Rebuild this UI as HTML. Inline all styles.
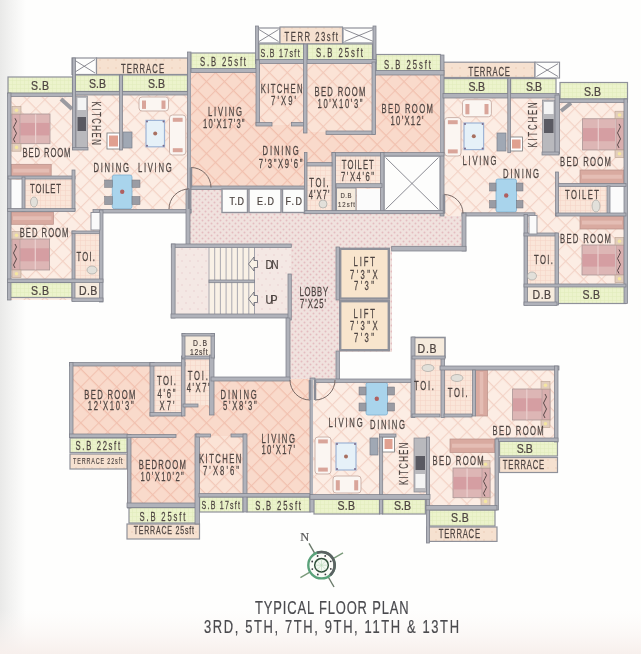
<!DOCTYPE html>
<html><head><meta charset="utf-8"><style>
html,body{margin:0;padding:0;background:#fefefd;}
svg{display:block;font-family:"Liberation Sans",sans-serif;filter:blur(0.35px);}
</style></head><body>
<svg width="641" height="654" viewBox="0 0 641 654">
<defs>
<linearGradient id="bgl" x1="0" x2="1" y1="0" y2="0">
<stop offset="0" stop-color="#e9e9e8"/><stop offset="0.35" stop-color="#f1f1f0"/><stop offset="1" stop-color="#fefefd"/>
</linearGradient>
<linearGradient id="bgb" x1="0" x2="0" y1="0" y2="1">
<stop offset="0" stop-color="#fbf7f5" stop-opacity="0"/><stop offset="1" stop-color="#f7efec" stop-opacity="1"/>
</linearGradient>
<pattern id="peach" width="12.7" height="12.7" patternUnits="userSpaceOnUse" patternTransform="rotate(45)">
<rect width="12.7" height="12.7" fill="#fcede4"/><path d="M0 0.6H12.7M0.6 0V12.7" stroke="#f3d2c5" stroke-width="1"/>
</pattern>
<pattern id="salmon" width="12.7" height="12.7" patternUnits="userSpaceOnUse" patternTransform="rotate(45)">
<rect width="12.7" height="12.7" fill="#f9dacb"/><path d="M0 0.6H12.7M0.6 0V12.7" stroke="#f1c0ae" stroke-width="1"/>
</pattern>
<pattern id="lsal" width="12.7" height="12.7" patternUnits="userSpaceOnUse" patternTransform="rotate(45)">
<rect width="12.7" height="12.7" fill="#fbe3d6"/><path d="M0 0.6H12.7M0.6 0V12.7" stroke="#f2c8b8" stroke-width="1"/>
</pattern>
<pattern id="green" width="4" height="4" patternUnits="userSpaceOnUse">
<rect width="4" height="4" fill="#ecf3cc"/><path d="M0 0.5H4M0.5 0V4" stroke="#e0eabb" stroke-width="0.5"/>
</pattern>
<pattern id="tan" width="8" height="8" patternUnits="userSpaceOnUse">
<rect width="8" height="8" fill="#f6e1d0"/><circle cx="4" cy="4" r="0.8" fill="#eccab6"/>
</pattern>
<pattern id="tile" width="5" height="5" patternUnits="userSpaceOnUse">
<rect width="5" height="5" fill="#fae6d9"/><path d="M0 0.5H5M0.5 0V5" stroke="#f4d3c4" stroke-width="0.5"/>
</pattern>
<pattern id="lobby" width="6" height="6" patternUnits="userSpaceOnUse">
<rect width="6" height="6" fill="#f0e2de"/><circle cx="1.5" cy="1.5" r="0.95" fill="#e4bcc0"/><circle cx="4.5" cy="4.5" r="0.95" fill="#e4bcc0"/>
</pattern>
<pattern id="stairf" width="8" height="12" patternUnits="userSpaceOnUse">
<rect width="8" height="12" fill="#f4e8e4"/><circle cx="2" cy="3" r="0.8" fill="#ead0d0"/><circle cx="6" cy="9" r="0.8" fill="#ead0d0"/>
</pattern>
</defs>
<rect width="641" height="654" fill="#fefefd"/>
<rect width="26" height="654" fill="url(#bgl)"/>
<rect y="610" width="641" height="44" fill="url(#bgb)"/>
<rect x="190" y="189" width="115" height="58" fill="url(#lobby)"/><rect x="304" y="211" width="158" height="36" fill="url(#lobby)"/><rect x="290" y="246" width="48" height="134" fill="url(#lobby)"/><rect x="338" y="246" width="54" height="106" fill="url(#lobby)"/>
<rect x="8" y="93" width="183" height="120" fill="url(#peach)" />
<rect x="8" y="211" width="95" height="89" fill="url(#peach)" />
<rect x="24" y="178" width="50" height="32" fill="url(#tile)" />
<rect x="74" y="232" width="27" height="50" fill="url(#tile)" />
<rect x="72" y="58" width="24.5" height="16.5" fill="#fdfdfc" stroke="#8f919a" stroke-width="1.2"/>
<path d="M73.5 59.5L95.0 73.0M95.0 59.5L73.5 73.0" stroke="#70707a" stroke-width="0.8"/>
<rect x="96.5" y="58" width="91.5" height="16.5" fill="url(#tan)" stroke="#8f919a" stroke-width="1.2"/>
<text x="0" y="0" font-size="12" text-anchor="middle" fill="#4e4542" stroke="#4e4542" stroke-width="0.25" textLength="67.2" lengthAdjust="spacing" transform="translate(142.5,72.5) scale(0.64,1)">TERRACE</text>
<rect x="8" y="77" width="64.5" height="16.5" fill="url(#green)" stroke="#8f919a" stroke-width="1.2"/>
<text x="0" y="0" font-size="12" text-anchor="middle" fill="#4e4542" stroke="#4e4542" stroke-width="0.25" textLength="20.5" lengthAdjust="spacing" transform="translate(40.0,89.8) scale(0.88,1)">S.B</text>
<rect x="75" y="75" width="44.5" height="16.5" fill="url(#green)" stroke="#8f919a" stroke-width="1.2"/>
<text x="0" y="0" font-size="12" text-anchor="middle" fill="#4e4542" stroke="#4e4542" stroke-width="0.25" textLength="19.3" lengthAdjust="spacing" transform="translate(97.5,87.8) scale(0.88,1)">S.B</text>
<rect x="122.5" y="75" width="65.0" height="16.5" fill="url(#green)" stroke="#8f919a" stroke-width="1.2"/>
<text x="0" y="0" font-size="12" text-anchor="middle" fill="#4e4542" stroke="#4e4542" stroke-width="0.25" textLength="19.3" lengthAdjust="spacing" transform="translate(156.5,87.8) scale(0.88,1)">S.B</text>
<rect x="11" y="180" width="12" height="28" fill="#fbfbfb" />
<rect x="8" y="282.5" width="64" height="15.0" fill="url(#green)" stroke="#8f919a" stroke-width="1.2"/>
<text x="0" y="0" font-size="12" text-anchor="middle" fill="#4e4542" stroke="#4e4542" stroke-width="0.25" textLength="20.5" lengthAdjust="spacing" transform="translate(40.0,294.5) scale(0.88,1)">S.B</text>
<rect x="73" y="282" width="28" height="18" fill="#f6ebdd" />
<text x="0" y="0" font-size="12" text-anchor="middle" fill="#4e4542" stroke="#4e4542" stroke-width="0.25" textLength="20.9" lengthAdjust="spacing" transform="translate(88.2,294.5) scale(0.88,1)">D.B</text>
<rect x="12" y="114" width="38.0" height="29.7" fill="#ddb6b5" stroke="#aa9696" stroke-width="0.8"/>
<rect x="12.5" y="122.9" width="37.0" height="12.5" fill="#d59ea2"/>
<line x1="19.6" y1="114.5" x2="19.6" y2="143.2" stroke="#ebd0cf" stroke-width="1.2"/>
<line x1="35.6" y1="114.5" x2="35.6" y2="143.2" stroke="#ebd0cf" stroke-width="1.2"/>
<rect x="12.0" y="114" width="8" height="29.7" fill="#d8aeae" stroke="#aa9696" stroke-width="0.6"/>
<path d="M15.0 117.0 q3 3 0 6 q-3 3 0 6 q3 3 0 6 q-3 3 0 6" fill="none" stroke="#5a4a4a" stroke-width="1" transform="translate(0,1.3)"/>
<rect x="12.0" y="106.5" width="9" height="7.5" fill="#e2cdbd" stroke="#b8a090" stroke-width="0.6"/><circle cx="16.5" cy="110.3" r="1.8" fill="#f4e6a0"/>
<rect x="12.0" y="143.7" width="9" height="7.5" fill="#e2cdbd" stroke="#b8a090" stroke-width="0.6"/><circle cx="16.5" cy="147.4" r="1.8" fill="#f4e6a0"/>
<rect x="11.2" y="164.3" width="40.0" height="12.5" fill="#d9aaa0" stroke="#b89088" stroke-width="0.7"/>
<rect x="13.2" y="168.7" width="36.0" height="3.8" fill="#e4bdb4"/>
<rect x="12" y="239" width="37.6" height="31.0" fill="#ddb6b5" stroke="#aa9696" stroke-width="0.8"/>
<rect x="12.5" y="248.3" width="36.6" height="13.0" fill="#d59ea2"/>
<line x1="19.5" y1="239.5" x2="19.5" y2="269.5" stroke="#ebd0cf" stroke-width="1.2"/>
<line x1="35.3" y1="239.5" x2="35.3" y2="269.5" stroke="#ebd0cf" stroke-width="1.2"/>
<rect x="12.0" y="239" width="8" height="31.0" fill="#d8aeae" stroke="#aa9696" stroke-width="0.6"/>
<path d="M15.0 242.0 q3 3 0 6 q-3 3 0 6 q3 3 0 6 q-3 3 0 6" fill="none" stroke="#5a4a4a" stroke-width="1" transform="translate(0,2.0)"/>
<rect x="12.0" y="231.5" width="9" height="7.5" fill="#e2cdbd" stroke="#b8a090" stroke-width="0.6"/><circle cx="16.5" cy="235.3" r="1.8" fill="#f4e6a0"/>
<rect x="12.0" y="270.0" width="9" height="7.5" fill="#e2cdbd" stroke="#b8a090" stroke-width="0.6"/><circle cx="16.5" cy="273.7" r="1.8" fill="#f4e6a0"/>
<rect x="11" y="212" width="42.4" height="12.3" fill="#d9aaa0" stroke="#b89088" stroke-width="0.7"/>
<rect x="13.0" y="216.3" width="38.4" height="3.7" fill="#e4bdb4"/>
<rect x="76" y="96" width="11.400000000000006" height="52.5" fill="#b9b9bd" stroke="#88888f" stroke-width="0.7"/>
<rect x="77.5" y="98" width="8.5" height="12" fill="#f4f4f4" />
<rect x="77.5" y="117" width="8.5" height="14" fill="#5a5a62" />
<rect x="107" y="133" width="13" height="16" fill="#fff" stroke="#777" stroke-width="0.8"/><rect x="109" y="135.5" width="9" height="11" fill="#e0a090"/>
<rect x="123" y="132" width="9" height="16" fill="#a0a8b4" stroke="#7a7f8a" stroke-width="0.7"/>
<rect x="139" y="97" width="29.5" height="14.0" rx="3" fill="#fbf6f2" stroke="#cdb3aa" stroke-width="1"/>
<rect x="142.0" y="100.5" width="4" height="8.4" fill="#d9a59a"/>
<rect x="161.5" y="100.5" width="4" height="8.4" fill="#d9a59a"/>
<rect x="169.5" y="115" width="16.3" height="40.0" rx="3" fill="#fbf6f2" stroke="#cdb3aa" stroke-width="1"/>
<rect x="172.8" y="117.8" width="9.8" height="4" fill="#d9a59a"/>
<rect x="172.8" y="148.2" width="9.8" height="4" fill="#d9a59a"/>
<rect x="146" y="120.4" width="18.5" height="26.4" fill="#e6f1f8" stroke="#9db4d6" stroke-width="1.2"/>
<circle cx="147.0" cy="121.4" r="1" fill="#7a6a8a"/>
<circle cx="163.5" cy="121.4" r="1" fill="#7a6a8a"/>
<circle cx="147.0" cy="145.8" r="1" fill="#7a6a8a"/>
<circle cx="163.5" cy="145.8" r="1" fill="#7a6a8a"/>
<circle cx="155.2" cy="133.6" r="2" fill="#a87060"/>
<rect x="112.3" y="175" width="19.700000000000003" height="33.69999999999999" rx="2" fill="#a9d4ec" stroke="#7fb0d0" stroke-width="0.8"/>
<circle cx="122.2" cy="191.8" r="2.2" fill="#b06060"/>
<rect x="104.6" y="180" width="7.700000000000003" height="7.400000000000006" fill="#9a9ca4" stroke="#70727a" stroke-width="0.5"/>
<rect x="104.6" y="196.5" width="7.700000000000003" height="8.099999999999994" fill="#9a9ca4" stroke="#70727a" stroke-width="0.5"/>
<rect x="132" y="180" width="8" height="7.400000000000006" fill="#9a9ca4" stroke="#70727a" stroke-width="0.5"/>
<rect x="132" y="196.5" width="8" height="8.099999999999994" fill="#9a9ca4" stroke="#70727a" stroke-width="0.5"/>
<path d="M61 99 L72 109" stroke="#9a9aa0" stroke-width="4"/>
<rect x="8" y="93" width="67" height="3.5" fill="#b0b2ba" stroke="#7e808a" stroke-width="0.75"/>
<rect x="72.5" y="91.5" width="118.5" height="3.5" fill="#b0b2ba" stroke="#7e808a" stroke-width="0.75"/>
<rect x="7.5" y="93" width="3.5" height="207" fill="#b0b2ba" stroke="#7e808a" stroke-width="0.75"/>
<rect x="187.5" y="52" width="3.5" height="161" fill="#b0b2ba" stroke="#7e808a" stroke-width="0.75"/>
<rect x="72.5" y="58" width="3.0" height="91.5" fill="#b0b2ba" stroke="#7e808a" stroke-width="0.75"/>
<rect x="72.5" y="147.5" width="15.5" height="2.5" fill="#b0b2ba" stroke="#7e808a" stroke-width="0.75"/>
<rect x="119.5" y="75" width="3.0" height="75" fill="#b0b2ba" stroke="#7e808a" stroke-width="0.75"/>
<rect x="8" y="176" width="67" height="3" fill="#b0b2ba" stroke="#7e808a" stroke-width="0.75"/>
<rect x="72" y="170" width="3" height="41" fill="#b0b2ba" stroke="#7e808a" stroke-width="0.75"/>
<rect x="22" y="177" width="3" height="34" fill="#b0b2ba" stroke="#7e808a" stroke-width="0.75"/>
<rect x="7.5" y="208.5" width="67.5" height="3.1" fill="#b0b2ba" stroke="#7e808a" stroke-width="0.75"/>
<rect x="93" y="209.5" width="98" height="3.5" fill="#b0b2ba" stroke="#7e808a" stroke-width="0.75"/>
<rect x="72" y="231" width="3" height="70" fill="#b0b2ba" stroke="#7e808a" stroke-width="0.75"/>
<rect x="72" y="231" width="30" height="2.7" fill="#b0b2ba" stroke="#7e808a" stroke-width="0.75"/>
<rect x="99.5" y="210" width="3.5" height="92" fill="#b0b2ba" stroke="#7e808a" stroke-width="0.75"/>
<rect x="7.5" y="279" width="95.5" height="3.5" fill="#b0b2ba" stroke="#7e808a" stroke-width="0.75"/>
<rect x="72" y="298" width="31" height="3.5" fill="#b0b2ba" stroke="#7e808a" stroke-width="0.75"/>
<rect x="91" y="212.5" width="9" height="17.5" fill="#fafafa" stroke="#8a8c96" stroke-width="0.9"/>
<text x="0" y="0" font-size="12" text-anchor="middle" fill="#4e4542" stroke="#4e4542" stroke-width="0.25" textLength="75.0" lengthAdjust="spacing" transform="translate(46.5,156.7) scale(0.64,1)">BED ROOM</text>
<text x="0" y="0" font-size="12" text-anchor="middle" fill="#4e4542" stroke="#4e4542" stroke-width="0.25" textLength="48.4" lengthAdjust="spacing" transform="translate(45.5,192.5) scale(0.64,1)">TOILET</text>
<text x="0" y="0" font-size="12" text-anchor="middle" fill="#4e4542" stroke="#4e4542" stroke-width="0.25" textLength="76.1" lengthAdjust="spacing" transform="translate(44.1,236.5) scale(0.64,1)">BED ROOM</text>
<text x="0" y="0" font-size="12" text-anchor="middle" fill="#4e4542" stroke="#4e4542" stroke-width="0.25" textLength="29.1" lengthAdjust="spacing" transform="translate(85.7,260.5) scale(0.64,1)">TOI.</text>
<text x="0" y="0" font-size="12" text-anchor="middle" fill="#4e4542" stroke="#4e4542" stroke-width="0.25" textLength="55.5" lengthAdjust="spacing" transform="translate(111.2,172) scale(0.64,1)">DINING</text>
<text x="0" y="0" font-size="12" text-anchor="middle" fill="#4e4542" stroke="#4e4542" stroke-width="0.25" textLength="52.5" lengthAdjust="spacing" transform="translate(154.8,172) scale(0.64,1)">LIVING</text>
<text x="0" y="0" font-size="12" text-anchor="middle" fill="#4e4542" stroke="#4e4542" stroke-width="0.2" textLength="67.8" lengthAdjust="spacing" transform="translate(92.2,123.1) rotate(90) scale(0.64,1)">KITCHEN</text>
<rect x="443" y="96" width="184" height="120" fill="url(#peach)" />
<rect x="524" y="214" width="103" height="90" fill="url(#peach)" />
<rect x="524" y="286" width="33" height="19" fill="#f6ebdd" />
<rect x="558" y="186.5" width="50" height="26.5" fill="url(#tile)" />
<rect x="527" y="236" width="29" height="49" fill="url(#tile)" />
<rect x="443.5" y="62.2" width="91.5" height="15.3" fill="url(#tan)" stroke="#8f919a" stroke-width="1.2"/>
<text x="0" y="0" font-size="12" text-anchor="middle" fill="#4e4542" stroke="#4e4542" stroke-width="0.25" textLength="64.8" lengthAdjust="spacing" transform="translate(489.2,75.8) scale(0.64,1)">TERRACE</text>
<rect x="535" y="62.2" width="24.5" height="15.8" fill="#fdfdfc" stroke="#8f919a" stroke-width="1.2"/>
<path d="M536.5 63.7L558.0 76.5M558.0 63.7L536.5 76.5" stroke="#70707a" stroke-width="0.8"/>
<rect x="443.5" y="78.6" width="64.5" height="15.4" fill="url(#green)" stroke="#8f919a" stroke-width="1.2"/>
<text x="0" y="0" font-size="12" text-anchor="middle" fill="#4e4542" stroke="#4e4542" stroke-width="0.25" textLength="18.8" lengthAdjust="spacing" transform="translate(476.8,90.8) scale(0.88,1)">S.B</text>
<rect x="510.6" y="78.6" width="45.4" height="16.4" fill="url(#green)" stroke="#8f919a" stroke-width="1.2"/>
<text x="0" y="0" font-size="12" text-anchor="middle" fill="#4e4542" stroke="#4e4542" stroke-width="0.25" textLength="18.2" lengthAdjust="spacing" transform="translate(534.0,90.8) scale(0.88,1)">S.B</text>
<rect x="560" y="82.5" width="67.5" height="16.5" fill="url(#green)" stroke="#8f919a" stroke-width="1.2"/>
<text x="0" y="0" font-size="12" text-anchor="middle" fill="#4e4542" stroke="#4e4542" stroke-width="0.25" textLength="19.3" lengthAdjust="spacing" transform="translate(592.5,95.5) scale(0.88,1)">S.B</text>
<rect x="610" y="186.5" width="14" height="26.5" fill="#fbfbfb" />
<rect x="557" y="286" width="68.6" height="17.5" fill="url(#green)" stroke="#8f919a" stroke-width="1.2"/>
<text x="0" y="0" font-size="12" text-anchor="middle" fill="#4e4542" stroke="#4e4542" stroke-width="0.25" textLength="19.9" lengthAdjust="spacing" transform="translate(591.2,298.8) scale(0.88,1)">S.B</text>
<text x="0" y="0" font-size="12" text-anchor="middle" fill="#4e4542" stroke="#4e4542" stroke-width="0.25" textLength="21.0" lengthAdjust="spacing" transform="translate(541.8,298.8) scale(0.88,1)">D.B</text>
<rect x="582.5" y="118.75" width="41.5" height="31.2" fill="#ddb6b5" stroke="#aa9696" stroke-width="0.8"/>
<rect x="583.0" y="128.1" width="40.5" height="13.1" fill="#d59ea2"/>
<line x1="615.7" y1="119.25" x2="615.7" y2="149.5" stroke="#ebd0cf" stroke-width="1.2"/>
<line x1="598.3" y1="119.25" x2="598.3" y2="149.5" stroke="#ebd0cf" stroke-width="1.2"/>
<rect x="616.0" y="118.75" width="8" height="31.2" fill="#d8aeae" stroke="#aa9696" stroke-width="0.6"/>
<path d="M619.0 121.8 q3 3 0 6 q-3 3 0 6 q3 3 0 6 q-3 3 0 6" fill="none" stroke="#5a4a4a" stroke-width="1" transform="translate(0,2.1)"/>
<rect x="615.0" y="111.2" width="9" height="7.5" fill="#e2cdbd" stroke="#b8a090" stroke-width="0.6"/><circle cx="619.5" cy="115.0" r="1.8" fill="#f4e6a0"/>
<rect x="615.0" y="150.0" width="9" height="7.5" fill="#e2cdbd" stroke="#b8a090" stroke-width="0.6"/><circle cx="619.5" cy="153.7" r="1.8" fill="#f4e6a0"/>
<rect x="580" y="170" width="44.0" height="13.5" fill="#d9aaa0" stroke="#b89088" stroke-width="0.7"/>
<rect x="582.0" y="174.7" width="40.0" height="4.0" fill="#e4bdb4"/>
<rect x="582" y="245" width="42.0" height="30.0" fill="#ddb6b5" stroke="#aa9696" stroke-width="0.8"/>
<rect x="582.5" y="254.0" width="41.0" height="12.6" fill="#d59ea2"/>
<line x1="615.6" y1="245.5" x2="615.6" y2="274.5" stroke="#ebd0cf" stroke-width="1.2"/>
<line x1="598.0" y1="245.5" x2="598.0" y2="274.5" stroke="#ebd0cf" stroke-width="1.2"/>
<rect x="616.0" y="245" width="8" height="30.0" fill="#d8aeae" stroke="#aa9696" stroke-width="0.6"/>
<path d="M619.0 248.0 q3 3 0 6 q-3 3 0 6 q3 3 0 6 q-3 3 0 6" fill="none" stroke="#5a4a4a" stroke-width="1" transform="translate(0,1.5)"/>
<rect x="615.0" y="237.5" width="9" height="7.5" fill="#e2cdbd" stroke="#b8a090" stroke-width="0.6"/><circle cx="619.5" cy="241.3" r="1.8" fill="#f4e6a0"/>
<rect x="615.0" y="275.0" width="9" height="7.5" fill="#e2cdbd" stroke="#b8a090" stroke-width="0.6"/><circle cx="619.5" cy="278.7" r="1.8" fill="#f4e6a0"/>
<rect x="580" y="216" width="44.0" height="13.0" fill="#d9aaa0" stroke="#b89088" stroke-width="0.7"/>
<rect x="582.0" y="220.6" width="40.0" height="3.9" fill="#e4bdb4"/>
<rect x="542.5" y="100" width="12.5" height="53" fill="#b9b9bd" stroke="#88888f" stroke-width="0.7"/>
<rect x="544" y="102" width="9.5" height="12" fill="#f4f4f4" />
<rect x="544" y="119" width="9.5" height="14" fill="#5a5a62" />
<rect x="510" y="137" width="12.6" height="14" fill="#fff" stroke="#777" stroke-width="0.8"/><rect x="512" y="139.5" width="8.6" height="9" fill="#e0a090"/>
<rect x="497" y="133" width="9" height="18" fill="#a0a8b4" stroke="#7a7f8a" stroke-width="0.7"/>
<rect x="462.5" y="99.7" width="28.9" height="17.1" rx="3" fill="#fbf6f2" stroke="#cdb3aa" stroke-width="1"/>
<rect x="465.4" y="104.0" width="4" height="10.3" fill="#d9a59a"/>
<rect x="484.5" y="104.0" width="4" height="10.3" fill="#d9a59a"/>
<rect x="444.6" y="117.6" width="16.4" height="38.4" rx="3" fill="#fbf6f2" stroke="#cdb3aa" stroke-width="1"/>
<rect x="447.9" y="120.2" width="9.8" height="4" fill="#d9a59a"/>
<rect x="447.9" y="149.4" width="9.8" height="4" fill="#d9a59a"/>
<rect x="464" y="123" width="19.6" height="26.6" fill="#e6f1f8" stroke="#9db4d6" stroke-width="1.2"/>
<circle cx="465.0" cy="124.0" r="1" fill="#7a6a8a"/>
<circle cx="482.6" cy="124.0" r="1" fill="#7a6a8a"/>
<circle cx="465.0" cy="148.6" r="1" fill="#7a6a8a"/>
<circle cx="482.6" cy="148.6" r="1" fill="#7a6a8a"/>
<circle cx="473.8" cy="136.3" r="2" fill="#a87060"/>
<rect x="496" y="179" width="20.5" height="33" rx="2" fill="#a9d4ec" stroke="#7fb0d0" stroke-width="0.8"/>
<circle cx="506.2" cy="195.5" r="2.2" fill="#b06060"/>
<rect x="489.5" y="183" width="6.5" height="8" fill="#9a9ca4" stroke="#70727a" stroke-width="0.5"/>
<rect x="489.5" y="200.5" width="6.5" height="7.5" fill="#9a9ca4" stroke="#70727a" stroke-width="0.5"/>
<rect x="516.5" y="183" width="6.5" height="8" fill="#9a9ca4" stroke="#70727a" stroke-width="0.5"/>
<rect x="516.5" y="200.5" width="6.5" height="7.5" fill="#9a9ca4" stroke="#70727a" stroke-width="0.5"/>
<path d="M561 111 L571 103" stroke="#9a9aa0" stroke-width="4"/>
<rect x="440" y="55" width="4" height="161" fill="#b0b2ba" stroke="#7e808a" stroke-width="0.75"/>
<rect x="443" y="93.4" width="116" height="4.6" fill="#b0b2ba" stroke="#7e808a" stroke-width="0.75"/>
<rect x="556" y="99" width="71.5" height="3.5" fill="#b0b2ba" stroke="#7e808a" stroke-width="0.75"/>
<rect x="507.8" y="78.6" width="2.8" height="74.1" fill="#b0b2ba" stroke="#7e808a" stroke-width="0.75"/>
<rect x="555" y="95" width="4.5" height="59" fill="#b0b2ba" stroke="#7e808a" stroke-width="0.75"/>
<rect x="542" y="152" width="17" height="3" fill="#b0b2ba" stroke="#7e808a" stroke-width="0.75"/>
<rect x="624" y="99" width="3.5" height="204.5" fill="#b0b2ba" stroke="#7e808a" stroke-width="0.75"/>
<rect x="556" y="183.4" width="70" height="3.1" fill="#b0b2ba" stroke="#7e808a" stroke-width="0.75"/>
<rect x="555.5" y="172" width="3.1" height="44" fill="#b0b2ba" stroke="#7e808a" stroke-width="0.75"/>
<rect x="607" y="186" width="3" height="28" fill="#b0b2ba" stroke="#7e808a" stroke-width="0.75"/>
<rect x="556" y="213" width="70" height="3" fill="#b0b2ba" stroke="#7e808a" stroke-width="0.75"/>
<rect x="462" y="212.8" width="73" height="3.2" fill="#b0b2ba" stroke="#7e808a" stroke-width="0.75"/>
<rect x="524" y="214.6" width="3.5" height="90.4" fill="#b0b2ba" stroke="#7e808a" stroke-width="0.75"/>
<rect x="524" y="233" width="33" height="3" fill="#b0b2ba" stroke="#7e808a" stroke-width="0.75"/>
<rect x="555" y="233" width="3.6" height="72" fill="#b0b2ba" stroke="#7e808a" stroke-width="0.75"/>
<rect x="524" y="284" width="102" height="3" fill="#b0b2ba" stroke="#7e808a" stroke-width="0.75"/>
<rect x="524" y="302" width="33" height="3.5" fill="#b0b2ba" stroke="#7e808a" stroke-width="0.75"/>
<rect x="529" y="215.5" width="8" height="18.5" fill="#fafafa" stroke="#8a8c96" stroke-width="0.9"/>
<text x="0" y="0" font-size="12" text-anchor="middle" fill="#4e4542" stroke="#4e4542" stroke-width="0.25" textLength="79.7" lengthAdjust="spacing" transform="translate(585.5,166.3) scale(0.64,1)">BED ROOM</text>
<text x="0" y="0" font-size="12" text-anchor="middle" fill="#4e4542" stroke="#4e4542" stroke-width="0.25" textLength="53.1" lengthAdjust="spacing" transform="translate(582.0,198.8) scale(0.64,1)">TOILET</text>
<text x="0" y="0" font-size="12" text-anchor="middle" fill="#4e4542" stroke="#4e4542" stroke-width="0.25" textLength="79.7" lengthAdjust="spacing" transform="translate(585.5,243.3) scale(0.64,1)">BED ROOM</text>
<text x="0" y="0" font-size="12" text-anchor="middle" fill="#4e4542" stroke="#4e4542" stroke-width="0.25" textLength="29.7" lengthAdjust="spacing" transform="translate(543.5,264) scale(0.64,1)">TOI.</text>
<text x="0" y="0" font-size="12" text-anchor="middle" fill="#4e4542" stroke="#4e4542" stroke-width="0.25" textLength="53.1" lengthAdjust="spacing" transform="translate(479.5,165) scale(0.64,1)">LIVING</text>
<text x="0" y="0" font-size="12" text-anchor="middle" fill="#4e4542" stroke="#4e4542" stroke-width="0.25" textLength="56.2" lengthAdjust="spacing" transform="translate(521.0,177.5) scale(0.64,1)">DINING</text>
<text x="0" y="0" font-size="12" text-anchor="middle" fill="#4e4542" stroke="#4e4542" stroke-width="0.2" textLength="70.3" lengthAdjust="spacing" transform="translate(537.3,125.0) rotate(-90) scale(0.64,1)">KITCHEN</text>
<rect x="191" y="60" width="249" height="129" fill="url(#salmon)" />
<rect x="259" y="62" width="46" height="63" fill="url(#lsal)" />
<rect x="307" y="62" width="65" height="70" fill="url(#lsal)" />
<rect x="305" y="155" width="135" height="57" fill="url(#salmon)" />
<rect x="307" y="165" width="25" height="46" fill="url(#tile)" />
<rect x="336" y="155" width="45" height="29" fill="url(#tile)" />
<rect x="191" y="53" width="65" height="16" fill="url(#green)" stroke="#8f919a" stroke-width="1.2"/>
<text x="0" y="0" font-size="12" text-anchor="middle" fill="#4e4542" stroke="#4e4542" stroke-width="0.25" textLength="71.9" lengthAdjust="spacing" transform="translate(223.0,66.4) scale(0.64,1)">S.B 25sft</text>
<rect x="257.5" y="28" width="22.5" height="15" fill="#fdfdfc" stroke="#8f919a" stroke-width="1.2"/>
<path d="M259.0 29.5L278.5 41.5M278.5 29.5L259.0 41.5" stroke="#70707a" stroke-width="0.8"/>
<rect x="280" y="27" width="62.5" height="17" fill="url(#tan)" stroke="#8f919a" stroke-width="1.2"/>
<text x="0" y="0" font-size="12" text-anchor="middle" fill="#4e4542" stroke="#4e4542" stroke-width="0.25" textLength="83.4" lengthAdjust="spacing" transform="translate(311.3,41.2) scale(0.64,1)">TERR 23sft</text>
<rect x="343" y="28" width="32" height="15" fill="#fdfdfc" stroke="#8f919a" stroke-width="1.2"/>
<path d="M344.5 29.5L373.5 41.5M373.5 29.5L344.5 41.5" stroke="#70707a" stroke-width="0.8"/>
<rect x="259" y="44" width="45" height="16" fill="url(#green)" stroke="#8f919a" stroke-width="1.2"/>
<text x="0" y="0" font-size="11" text-anchor="middle" fill="#4e4542" stroke="#4e4542" stroke-width="0.25" textLength="60.9" lengthAdjust="spacing" transform="translate(280.1,57.2) scale(0.64,1)">S.B 17sft</text>
<rect x="307.5" y="44" width="65.0" height="16" fill="url(#green)" stroke="#8f919a" stroke-width="1.2"/>
<text x="0" y="0" font-size="12" text-anchor="middle" fill="#4e4542" stroke="#4e4542" stroke-width="0.25" textLength="73.4" lengthAdjust="spacing" transform="translate(339.5,57.3) scale(0.64,1)">S.B 25sft</text>
<rect x="376" y="54.5" width="64.5" height="16.5" fill="url(#green)" stroke="#8f919a" stroke-width="1.2"/>
<text x="0" y="0" font-size="12" text-anchor="middle" fill="#4e4542" stroke="#4e4542" stroke-width="0.25" textLength="73.4" lengthAdjust="spacing" transform="translate(407.5,68.8) scale(0.64,1)">S.B 25sft</text>
<rect x="255.5" y="26" width="3.0" height="36" fill="#b0b2ba" stroke="#7e808a" stroke-width="0.75"/>
<rect x="373" y="26" width="3" height="49" fill="#b0b2ba" stroke="#7e808a" stroke-width="0.75"/>
<rect x="191" y="68.5" width="68" height="4.0" fill="#b0b2ba" stroke="#7e808a" stroke-width="0.75"/>
<rect x="255.5" y="59.5" width="120.5" height="4.0" fill="#b0b2ba" stroke="#7e808a" stroke-width="0.75"/>
<rect x="372.5" y="70.5" width="71.5" height="4.5" fill="#b0b2ba" stroke="#7e808a" stroke-width="0.75"/>
<rect x="256" y="60" width="3.5" height="65" fill="#b0b2ba" stroke="#7e808a" stroke-width="0.75"/>
<rect x="256" y="122.5" width="16" height="3.5" fill="#b0b2ba" stroke="#7e808a" stroke-width="0.75"/>
<rect x="291.5" y="122.5" width="13.5" height="3.5" fill="#b0b2ba" stroke="#7e808a" stroke-width="0.75"/>
<rect x="303.5" y="44" width="3.5" height="89" fill="#b0b2ba" stroke="#7e808a" stroke-width="0.75"/>
<rect x="326" y="131" width="49" height="3.5" fill="#b0b2ba" stroke="#7e808a" stroke-width="0.75"/>
<rect x="372" y="62" width="3.5" height="72.5" fill="#b0b2ba" stroke="#7e808a" stroke-width="0.75"/>
<rect x="191" y="186" width="114" height="3.5" fill="#b0b2ba" stroke="#7e808a" stroke-width="0.75"/>
<rect x="384" y="156" width="56" height="55" fill="#fdfdfc" stroke="#8f919a" stroke-width="1.2"/>
<path d="M385.5 157.5L438.5 209.5M438.5 157.5L385.5 209.5" stroke="#70707a" stroke-width="0.8"/>
<rect x="332" y="152.5" width="112" height="3.5" fill="#b0b2ba" stroke="#7e808a" stroke-width="0.75"/>
<rect x="380.5" y="152.5" width="3.5" height="59.5" fill="#b0b2ba" stroke="#7e808a" stroke-width="0.75"/>
<rect x="332" y="152.5" width="3.6" height="60.5" fill="#b0b2ba" stroke="#7e808a" stroke-width="0.75"/>
<rect x="336" y="183.7" width="46" height="3.8" fill="#b0b2ba" stroke="#7e808a" stroke-width="0.75"/>
<rect x="336.5" y="188" width="19.5" height="23" fill="#f6ebdd" stroke="#8f919a" stroke-width="1.0"/>
<rect x="357" y="188.7" width="23" height="22.3" fill="#fbfbfb" />
<rect x="304.4" y="152.5" width="2.6" height="60.5" fill="#b0b2ba" stroke="#7e808a" stroke-width="0.75"/>
<rect x="307" y="162.5" width="25" height="3.5" fill="#b0b2ba" stroke="#7e808a" stroke-width="0.75"/>
<rect x="304" y="210.5" width="140" height="3.2" fill="#b0b2ba" stroke="#7e808a" stroke-width="0.75"/>
<text x="0" y="0" font-size="12" text-anchor="middle" fill="#4e4542" stroke="#4e4542" stroke-width="0.25" textLength="49.8" lengthAdjust="spacing" transform="translate(357.8,168.7) scale(0.64,1)">TOILET</text>
<text x="0" y="0" font-size="12" text-anchor="middle" fill="#4e4542" stroke="#4e4542" stroke-width="0.25" textLength="51.6" lengthAdjust="spacing" transform="translate(357.5,180.8) scale(0.64,1)">7'X4'6&quot;</text>
<text x="0" y="0" font-size="12" text-anchor="middle" fill="#4e4542" stroke="#4e4542" stroke-width="0.25" textLength="30.2" lengthAdjust="spacing" transform="translate(319.0,186.8) scale(0.64,1)">TOI.</text>
<text x="0" y="0" font-size="12" text-anchor="middle" fill="#4e4542" stroke="#4e4542" stroke-width="0.25" textLength="32.5" lengthAdjust="spacing" transform="translate(319.1,199.3) scale(0.64,1)">4'X7'</text>
<text x="0" y="0" font-size="7.5" text-anchor="middle" fill="#4e4542" stroke="#4e4542" stroke-width="0.15" textLength="13.8" lengthAdjust="spacing" transform="translate(346.0,198) scale(0.8,1)">D.B</text>
<text x="0" y="0" font-size="7.5" text-anchor="middle" fill="#4e4542" stroke="#4e4542" stroke-width="0.15" textLength="21.2" lengthAdjust="spacing" transform="translate(346.5,207) scale(0.8,1)">12sft</text>
<text x="0" y="0" font-size="12" text-anchor="middle" fill="#4e4542" stroke="#4e4542" stroke-width="0.25" textLength="53.1" lengthAdjust="spacing" transform="translate(225.0,116) scale(0.64,1)">LIVING</text>
<text x="0" y="0" font-size="12" text-anchor="middle" fill="#4e4542" stroke="#4e4542" stroke-width="0.25" textLength="65.0" lengthAdjust="spacing" transform="translate(223.8,128) scale(0.64,1)">10'X17'3&quot;</text>
<text x="0" y="0" font-size="12" text-anchor="middle" fill="#4e4542" stroke="#4e4542" stroke-width="0.25" textLength="65.5" lengthAdjust="spacing" transform="translate(281.6,93) scale(0.64,1)">KITCHEN</text>
<text x="0" y="0" font-size="12" text-anchor="middle" fill="#4e4542" stroke="#4e4542" stroke-width="0.25" textLength="39.1" lengthAdjust="spacing" transform="translate(283.5,105) scale(0.64,1)">7'X9'</text>
<text x="0" y="0" font-size="12" text-anchor="middle" fill="#4e4542" stroke="#4e4542" stroke-width="0.25" textLength="79.7" lengthAdjust="spacing" transform="translate(340.0,96.3) scale(0.64,1)">BED ROOM</text>
<text x="0" y="0" font-size="12" text-anchor="middle" fill="#4e4542" stroke="#4e4542" stroke-width="0.25" textLength="70.3" lengthAdjust="spacing" transform="translate(340.0,108) scale(0.64,1)">10'X10'3&quot;</text>
<text x="0" y="0" font-size="12" text-anchor="middle" fill="#4e4542" stroke="#4e4542" stroke-width="0.25" textLength="80.5" lengthAdjust="spacing" transform="translate(407.2,112.5) scale(0.64,1)">BED ROOM</text>
<text x="0" y="0" font-size="12" text-anchor="middle" fill="#4e4542" stroke="#4e4542" stroke-width="0.25" textLength="51.6" lengthAdjust="spacing" transform="translate(407.0,125) scale(0.64,1)">10'X12'</text>
<text x="0" y="0" font-size="12" text-anchor="middle" fill="#4e4542" stroke="#4e4542" stroke-width="0.25" textLength="56.6" lengthAdjust="spacing" transform="translate(280.6,155) scale(0.64,1)">DINING</text>
<text x="0" y="0" font-size="12" text-anchor="middle" fill="#4e4542" stroke="#4e4542" stroke-width="0.25" textLength="68.4" lengthAdjust="spacing" transform="translate(280.6,167.5) scale(0.64,1)">7'3&quot;X9'6&quot;</text>
<rect x="222" y="189" width="25.5" height="23.5" fill="#fcfcfb" stroke="#8f919a" stroke-width="1.4"/>
<rect x="249" y="189" width="32" height="23.5" fill="#fcfcfb" stroke="#8f919a" stroke-width="1.4"/>
<rect x="282.5" y="189" width="22.0" height="23.5" fill="#fcfcfb" stroke="#8f919a" stroke-width="1.4"/>
<text x="0" y="0" font-size="10.5" text-anchor="middle" fill="#4e4542" stroke="#4e4542" stroke-width="0.25" textLength="16.8" lengthAdjust="spacing" transform="translate(236.7,204.8) scale(0.85,1)">T.D</text>
<text x="0" y="0" font-size="10.5" text-anchor="middle" fill="#4e4542" stroke="#4e4542" stroke-width="0.25" textLength="20.0" lengthAdjust="spacing" transform="translate(265.5,204.8) scale(0.85,1)">E.D</text>
<text x="0" y="0" font-size="10.5" text-anchor="middle" fill="#4e4542" stroke="#4e4542" stroke-width="0.25" textLength="19.4" lengthAdjust="spacing" transform="translate(293.8,204.8) scale(0.85,1)">F.D</text>
<rect x="186" y="189" width="4" height="58" fill="#b0b2ba" stroke="#7e808a" stroke-width="0.75"/>
<rect x="462" y="213" width="4" height="38" fill="#b0b2ba" stroke="#7e808a" stroke-width="0.75"/>
<rect x="391.7" y="246.3" width="74.3" height="4.7" fill="#b0b2ba" stroke="#7e808a" stroke-width="0.75"/>
<rect x="171" y="244" width="120" height="74" fill="url(#stairf)" />
<rect x="209" y="247.6" width="45.5" height="67.4" fill="#f9f1e6" />
<line x1="209.0" y1="247.6" x2="209.0" y2="315" stroke="#a2a2aa" stroke-width="0.9"/>
<line x1="214.7" y1="247.6" x2="214.7" y2="315" stroke="#a2a2aa" stroke-width="0.9"/>
<line x1="220.4" y1="247.6" x2="220.4" y2="315" stroke="#a2a2aa" stroke-width="0.9"/>
<line x1="226.1" y1="247.6" x2="226.1" y2="315" stroke="#a2a2aa" stroke-width="0.9"/>
<line x1="231.8" y1="247.6" x2="231.8" y2="315" stroke="#a2a2aa" stroke-width="0.9"/>
<line x1="237.4" y1="247.6" x2="237.4" y2="315" stroke="#a2a2aa" stroke-width="0.9"/>
<line x1="243.1" y1="247.6" x2="243.1" y2="315" stroke="#a2a2aa" stroke-width="0.9"/>
<line x1="248.8" y1="247.6" x2="248.8" y2="315" stroke="#a2a2aa" stroke-width="0.9"/>
<line x1="254.5" y1="247.6" x2="254.5" y2="315" stroke="#a2a2aa" stroke-width="0.9"/>
<line x1="254.5" y1="247.6" x2="254.5" y2="315" stroke="#a2a2aa" stroke-width="0.9"/>
<rect x="209" y="280" width="45.5" height="2.7" fill="#b0b2ba" stroke="#7e808a" stroke-width="0.75"/>
<rect x="171.3" y="244" width="120.0" height="3.6" fill="#b0b2ba" stroke="#7e808a" stroke-width="0.75"/>
<rect x="171.3" y="244" width="3.8" height="74" fill="#b0b2ba" stroke="#7e808a" stroke-width="0.75"/>
<rect x="171" y="314" width="119" height="4" fill="#b0b2ba" stroke="#7e808a" stroke-width="0.75"/>
<rect x="288" y="274" width="3.3" height="46" fill="#b0b2ba" stroke="#7e808a" stroke-width="0.75"/>
<path d="M248.5 264 L254 257 V260.5 H257.5 V267.5 H254 V271 Z" fill="#f9f1e6" stroke="#6e6e78" stroke-width="0.9"/>
<path d="M248.5 299 L254 292 V295.5 H257.5 V302.5 H254 V306 Z" fill="#f9f1e6" stroke="#6e6e78" stroke-width="0.9"/>
<text x="0" y="0" font-size="12" text-anchor="middle" fill="#4e4542" stroke="#4e4542" stroke-width="0.25" textLength="15.3" lengthAdjust="spacing" transform="translate(272.0,268.8) scale(0.85,1)">DN</text>
<text x="0" y="0" font-size="12" text-anchor="middle" fill="#4e4542" stroke="#4e4542" stroke-width="0.25" textLength="14.1" lengthAdjust="spacing" transform="translate(271.5,304.2) scale(0.85,1)">UP</text>
<rect x="286" y="318" width="4" height="61" fill="#b0b2ba" stroke="#7e808a" stroke-width="0.75"/>
<rect x="336" y="351" width="3.5" height="30" fill="#b0b2ba" stroke="#7e808a" stroke-width="0.75"/>
<text x="0" y="0" font-size="12" text-anchor="middle" fill="#4e4542" stroke="#4e4542" stroke-width="0.25" textLength="44.4" lengthAdjust="spacing" transform="translate(313.8,295.5) scale(0.64,1)">LOBBY</text>
<text x="0" y="0" font-size="12" text-anchor="middle" fill="#4e4542" stroke="#4e4542" stroke-width="0.25" textLength="40.6" lengthAdjust="spacing" transform="translate(313.0,307.8) scale(0.64,1)">7'X25'</text>
<rect x="340.2" y="248.8" width="48.6" height="49.8" fill="#f8e5cd" stroke="#8f919a" stroke-width="2.4"/>
<rect x="340.2" y="301.2" width="48.6" height="49.0" fill="#f8e5cd" stroke="#8f919a" stroke-width="2.4"/>
<rect x="336" y="247" width="3.5" height="53" fill="#b0b2ba" stroke="#7e808a" stroke-width="0.75"/>
<text x="0" y="0" font-size="12" text-anchor="middle" fill="#4e4542" stroke="#4e4542" stroke-width="0.25" textLength="33.6" lengthAdjust="spacing" transform="translate(364.2,266) scale(0.64,1)">LIFT</text>
<text x="0" y="0" font-size="12" text-anchor="middle" fill="#4e4542" stroke="#4e4542" stroke-width="0.25" textLength="43.0" lengthAdjust="spacing" transform="translate(363.8,278.5) scale(0.64,1)">7'3&quot;X</text>
<text x="0" y="0" font-size="12" text-anchor="middle" fill="#4e4542" stroke="#4e4542" stroke-width="0.25" textLength="31.2" lengthAdjust="spacing" transform="translate(364.0,290) scale(0.64,1)">7'3&quot;</text>
<text x="0" y="0" font-size="12" text-anchor="middle" fill="#4e4542" stroke="#4e4542" stroke-width="0.25" textLength="33.6" lengthAdjust="spacing" transform="translate(364.2,317.5) scale(0.64,1)">LIFT</text>
<text x="0" y="0" font-size="12" text-anchor="middle" fill="#4e4542" stroke="#4e4542" stroke-width="0.25" textLength="43.0" lengthAdjust="spacing" transform="translate(363.8,330) scale(0.64,1)">7'3&quot;X</text>
<text x="0" y="0" font-size="12" text-anchor="middle" fill="#4e4542" stroke="#4e4542" stroke-width="0.25" textLength="31.2" lengthAdjust="spacing" transform="translate(364.0,342) scale(0.64,1)">7'3&quot;</text>
<rect x="70" y="364" width="144" height="73" fill="url(#salmon)" />
<rect x="212" y="379" width="101" height="58" fill="url(#salmon)" />
<rect x="127" y="434" width="186" height="71" fill="url(#salmon)" />
<rect x="199" y="436" width="46" height="59" fill="url(#lsal)" />
<rect x="154" y="366" width="28" height="47" fill="url(#tile)" />
<rect x="185" y="359" width="25" height="46" fill="url(#tile)" />
<rect x="183" y="336" width="29" height="20" fill="#f6ebdd" />
<rect x="70" y="438" width="57" height="14.5" fill="url(#green)" stroke="#8f919a" stroke-width="1.2"/>
<text x="0" y="0" font-size="12" text-anchor="middle" fill="#4e4542" stroke="#4e4542" stroke-width="0.25" textLength="69.5" lengthAdjust="spacing" transform="translate(97.8,450) scale(0.64,1)">S.B 22sft</text>
<rect x="70" y="454" width="57" height="15" fill="url(#tan)" stroke="#8f919a" stroke-width="1.2"/>
<text x="0" y="0" font-size="8.5" text-anchor="middle" fill="#4e4542" stroke="#4e4542" stroke-width="0.15" textLength="77.3" lengthAdjust="spacing" transform="translate(97.8,464.2) scale(0.64,1)">TERRACE 22sft</text>
<rect x="129" y="507.6" width="67.5" height="15.4" fill="url(#green)" stroke="#8f919a" stroke-width="1.2"/>
<text x="0" y="0" font-size="12" text-anchor="middle" fill="#4e4542" stroke="#4e4542" stroke-width="0.25" textLength="71.7" lengthAdjust="spacing" transform="translate(162.4,520.6) scale(0.64,1)">S.B 25sft</text>
<rect x="127" y="524" width="72.5" height="15" fill="url(#tan)" stroke="#8f919a" stroke-width="1.2"/>
<text x="0" y="0" font-size="11" text-anchor="middle" fill="#4e4542" stroke="#4e4542" stroke-width="0.25" textLength="94.2" lengthAdjust="spacing" transform="translate(163.8,534.4) scale(0.64,1)">TERRACE 25sft</text>
<rect x="199.5" y="497" width="43.5" height="15" fill="url(#green)" stroke="#8f919a" stroke-width="1.2"/>
<text x="0" y="0" font-size="11" text-anchor="middle" fill="#4e4542" stroke="#4e4542" stroke-width="0.25" textLength="60.0" lengthAdjust="spacing" transform="translate(220.8,508.9) scale(0.64,1)">S.B 17sft</text>
<rect x="247" y="497" width="63" height="15" fill="url(#green)" stroke="#8f919a" stroke-width="1.2"/>
<text x="0" y="0" font-size="12" text-anchor="middle" fill="#4e4542" stroke="#4e4542" stroke-width="0.25" textLength="71.6" lengthAdjust="spacing" transform="translate(278.1,510) scale(0.64,1)">S.B 25sft</text>
<rect x="247" y="437" width="63" height="57" fill="url(#salmon)" />
<rect x="69.5" y="362.5" width="84.5" height="3.5" fill="#b0b2ba" stroke="#7e808a" stroke-width="0.75"/>
<rect x="69.5" y="362.5" width="3.5" height="75.0" fill="#b0b2ba" stroke="#7e808a" stroke-width="0.75"/>
<rect x="69.5" y="434" width="58.0" height="3.5" fill="#b0b2ba" stroke="#7e808a" stroke-width="0.75"/>
<rect x="127.5" y="434.5" width="3.5" height="73.5" fill="#b0b2ba" stroke="#7e808a" stroke-width="0.75"/>
<rect x="127" y="434.5" width="49" height="3.0" fill="#b0b2ba" stroke="#7e808a" stroke-width="0.75"/>
<rect x="127" y="503" width="72.5" height="4.6" fill="#b0b2ba" stroke="#7e808a" stroke-width="0.75"/>
<rect x="195" y="434" width="4.5" height="90" fill="#b0b2ba" stroke="#7e808a" stroke-width="0.75"/>
<rect x="196" y="434" width="14.5" height="3" fill="#b0b2ba" stroke="#7e808a" stroke-width="0.75"/>
<rect x="231" y="434" width="15" height="3" fill="#b0b2ba" stroke="#7e808a" stroke-width="0.75"/>
<rect x="243" y="434" width="4" height="78" fill="#b0b2ba" stroke="#7e808a" stroke-width="0.75"/>
<rect x="199" y="493.6" width="114" height="3.4" fill="#b0b2ba" stroke="#7e808a" stroke-width="0.75"/>
<rect x="150" y="362.5" width="4" height="53.5" fill="#b0b2ba" stroke="#7e808a" stroke-width="0.75"/>
<rect x="150" y="362.5" width="35" height="3.5" fill="#b0b2ba" stroke="#7e808a" stroke-width="0.75"/>
<rect x="150" y="412.5" width="32.5" height="3.5" fill="#b0b2ba" stroke="#7e808a" stroke-width="0.75"/>
<rect x="181.5" y="356" width="3.5" height="60" fill="#b0b2ba" stroke="#7e808a" stroke-width="0.75"/>
<rect x="182.5" y="356" width="31.5" height="3" fill="#b0b2ba" stroke="#7e808a" stroke-width="0.75"/>
<rect x="209.5" y="355" width="4.5" height="60" fill="#b0b2ba" stroke="#7e808a" stroke-width="0.75"/>
<rect x="183" y="404" width="15" height="3" fill="#b0b2ba" stroke="#7e808a" stroke-width="0.75"/>
<rect x="182" y="333.5" width="3" height="24.5" fill="#b0b2ba" stroke="#7e808a" stroke-width="0.75"/>
<rect x="211" y="333.5" width="3.5" height="24.5" fill="#b0b2ba" stroke="#7e808a" stroke-width="0.75"/>
<rect x="182" y="333.5" width="32.5" height="2.5" fill="#b0b2ba" stroke="#7e808a" stroke-width="0.75"/>
<rect x="211" y="377" width="79" height="4" fill="#b0b2ba" stroke="#7e808a" stroke-width="0.75"/>
<rect x="310" y="378" width="5" height="134" fill="#b0b2ba" stroke="#7e808a" stroke-width="0.75"/>
<text x="0" y="0" font-size="12" text-anchor="middle" fill="#4e4542" stroke="#4e4542" stroke-width="0.25" textLength="79.8" lengthAdjust="spacing" transform="translate(109.8,399) scale(0.64,1)">BED ROOM</text>
<text x="0" y="0" font-size="12" text-anchor="middle" fill="#4e4542" stroke="#4e4542" stroke-width="0.25" textLength="71.7" lengthAdjust="spacing" transform="translate(110.8,410.4) scale(0.64,1)">12'X10'3&quot;</text>
<text x="0" y="0" font-size="12" text-anchor="middle" fill="#4e4542" stroke="#4e4542" stroke-width="0.25" textLength="29.7" lengthAdjust="spacing" transform="translate(166.5,384.8) scale(0.64,1)">TOI.</text>
<text x="0" y="0" font-size="12" text-anchor="middle" fill="#4e4542" stroke="#4e4542" stroke-width="0.25" textLength="28.1" lengthAdjust="spacing" transform="translate(166.5,398) scale(0.64,1)">4'6&quot;</text>
<text x="0" y="0" font-size="12" text-anchor="middle" fill="#4e4542" stroke="#4e4542" stroke-width="0.25" textLength="23.4" lengthAdjust="spacing" transform="translate(167.0,410.4) scale(0.64,1)">X7'</text>
<text x="0" y="0" font-size="12" text-anchor="middle" fill="#4e4542" stroke="#4e4542" stroke-width="0.25" textLength="31.2" lengthAdjust="spacing" transform="translate(197.8,379.7) scale(0.64,1)">TOI.</text>
<text x="0" y="0" font-size="12" text-anchor="middle" fill="#4e4542" stroke="#4e4542" stroke-width="0.25" textLength="35.2" lengthAdjust="spacing" transform="translate(198.1,391.5) scale(0.64,1)">4'X7'</text>
<text x="0" y="0" font-size="8.5" text-anchor="middle" fill="#4e4542" stroke="#4e4542" stroke-width="0.2" textLength="17.5" lengthAdjust="spacing" transform="translate(200.0,346) scale(0.8,1)">D.B</text>
<text x="0" y="0" font-size="8.5" text-anchor="middle" fill="#4e4542" stroke="#4e4542" stroke-width="0.2" textLength="21.9" lengthAdjust="spacing" transform="translate(198.8,354.5) scale(0.8,1)">12sft</text>
<text x="0" y="0" font-size="12" text-anchor="middle" fill="#4e4542" stroke="#4e4542" stroke-width="0.25" textLength="56.7" lengthAdjust="spacing" transform="translate(238.7,399) scale(0.64,1)">DINING</text>
<text x="0" y="0" font-size="12" text-anchor="middle" fill="#4e4542" stroke="#4e4542" stroke-width="0.25" textLength="52.8" lengthAdjust="spacing" transform="translate(239.9,410.4) scale(0.64,1)">5'X8'3&quot;</text>
<text x="0" y="0" font-size="12" text-anchor="middle" fill="#4e4542" stroke="#4e4542" stroke-width="0.25" textLength="52.5" lengthAdjust="spacing" transform="translate(278.2,442.5) scale(0.64,1)">LIVING</text>
<text x="0" y="0" font-size="12" text-anchor="middle" fill="#4e4542" stroke="#4e4542" stroke-width="0.25" textLength="52.5" lengthAdjust="spacing" transform="translate(278.2,454) scale(0.64,1)">10'X17'</text>
<text x="0" y="0" font-size="12" text-anchor="middle" fill="#4e4542" stroke="#4e4542" stroke-width="0.25" textLength="73.4" lengthAdjust="spacing" transform="translate(162.3,469) scale(0.64,1)">BEDROOM</text>
<text x="0" y="0" font-size="12" text-anchor="middle" fill="#4e4542" stroke="#4e4542" stroke-width="0.25" textLength="67.8" lengthAdjust="spacing" transform="translate(162.1,480.8) scale(0.64,1)">10'X10'2&quot;</text>
<text x="0" y="0" font-size="12" text-anchor="middle" fill="#4e4542" stroke="#4e4542" stroke-width="0.25" textLength="66.3" lengthAdjust="spacing" transform="translate(220.2,463) scale(0.64,1)">KITCHEN</text>
<text x="0" y="0" font-size="12" text-anchor="middle" fill="#4e4542" stroke="#4e4542" stroke-width="0.25" textLength="56.2" lengthAdjust="spacing" transform="translate(221.0,474.7) scale(0.64,1)">7'X8'6&quot;</text>
<rect x="313" y="380" width="113" height="119" fill="url(#peach)" />
<rect x="413" y="366" width="145" height="76" fill="url(#peach)" />
<rect x="426" y="437" width="72" height="73" fill="url(#peach)" />
<rect x="414" y="359" width="28" height="57" fill="url(#tile)" />
<rect x="444" y="370" width="28.5" height="46" fill="url(#tile)" />
<rect x="412.5" y="337.5" width="32.5" height="20.0" fill="#f6ebdd" stroke="#8f919a" stroke-width="1.6"/>
<text x="0" y="0" font-size="12" text-anchor="middle" fill="#4e4542" stroke="#4e4542" stroke-width="0.25" textLength="21.7" lengthAdjust="spacing" transform="translate(427.1,352.5) scale(0.88,1)">D.B</text>
<rect x="314" y="499.3" width="65.5" height="14.7" fill="url(#green)" stroke="#8f919a" stroke-width="1.2"/>
<text x="0" y="0" font-size="12" text-anchor="middle" fill="#4e4542" stroke="#4e4542" stroke-width="0.25" textLength="19.9" lengthAdjust="spacing" transform="translate(346.2,510) scale(0.88,1)">S.B</text>
<rect x="382.7" y="499.3" width="42.7" height="14.7" fill="url(#green)" stroke="#8f919a" stroke-width="1.2"/>
<text x="0" y="0" font-size="12" text-anchor="middle" fill="#4e4542" stroke="#4e4542" stroke-width="0.25" textLength="19.3" lengthAdjust="spacing" transform="translate(402.5,510) scale(0.88,1)">S.B</text>
<rect x="499.5" y="441" width="58.0" height="15" fill="url(#green)" stroke="#8f919a" stroke-width="1.2"/>
<text x="0" y="0" font-size="12" text-anchor="middle" fill="#4e4542" stroke="#4e4542" stroke-width="0.25" textLength="18.2" lengthAdjust="spacing" transform="translate(524.8,452.7) scale(0.88,1)">S.B</text>
<rect x="499.5" y="457.5" width="58.0" height="15.0" fill="url(#tan)" stroke="#8f919a" stroke-width="1.2"/>
<text x="0" y="0" font-size="12" text-anchor="middle" fill="#4e4542" stroke="#4e4542" stroke-width="0.25" textLength="64.8" lengthAdjust="spacing" transform="translate(523.5,468.7) scale(0.64,1)">TERRACE</text>
<rect x="429.5" y="510" width="65.5" height="16" fill="url(#green)" stroke="#8f919a" stroke-width="1.2"/>
<text x="0" y="0" font-size="12" text-anchor="middle" fill="#4e4542" stroke="#4e4542" stroke-width="0.25" textLength="20.1" lengthAdjust="spacing" transform="translate(459.9,522) scale(0.88,1)">S.B</text>
<rect x="427" y="527" width="70" height="14.4" fill="url(#tan)" stroke="#8f919a" stroke-width="1.2"/>
<text x="0" y="0" font-size="12" text-anchor="middle" fill="#4e4542" stroke="#4e4542" stroke-width="0.25" textLength="64.5" lengthAdjust="spacing" transform="translate(459.4,537.5) scale(0.64,1)">TERRACE</text>
<rect x="366" y="382.5" width="21.5" height="32.5" rx="2" fill="#a9d4ec" stroke="#7fb0d0" stroke-width="0.8"/>
<circle cx="376.8" cy="398.8" r="2.2" fill="#b06060"/>
<rect x="359" y="387" width="7" height="8" fill="#9a9ca4" stroke="#70727a" stroke-width="0.5"/>
<rect x="359" y="403" width="7" height="8" fill="#9a9ca4" stroke="#70727a" stroke-width="0.5"/>
<rect x="387.5" y="387" width="7.0" height="8" fill="#9a9ca4" stroke="#70727a" stroke-width="0.5"/>
<rect x="387.5" y="403" width="7.0" height="8" fill="#9a9ca4" stroke="#70727a" stroke-width="0.5"/>
<rect x="315" y="437" width="16.0" height="37.0" rx="3" fill="#fbf6f2" stroke="#cdb3aa" stroke-width="1"/>
<rect x="318.2" y="439.4" width="9.6" height="4" fill="#d9a59a"/>
<rect x="318.2" y="467.6" width="9.6" height="4" fill="#d9a59a"/>
<rect x="333" y="476" width="28.0" height="17.0" rx="3" fill="#fbf6f2" stroke="#cdb3aa" stroke-width="1"/>
<rect x="335.8" y="480.2" width="4" height="10.2" fill="#d9a59a"/>
<rect x="354.2" y="480.2" width="4" height="10.2" fill="#d9a59a"/>
<rect x="336" y="443" width="20.0" height="27.0" fill="#e6f1f8" stroke="#9db4d6" stroke-width="1.2"/>
<circle cx="337.0" cy="444.0" r="1" fill="#7a6a8a"/>
<circle cx="355.0" cy="444.0" r="1" fill="#7a6a8a"/>
<circle cx="337.0" cy="469.0" r="1" fill="#7a6a8a"/>
<circle cx="355.0" cy="469.0" r="1" fill="#7a6a8a"/>
<circle cx="346.0" cy="456.5" r="2" fill="#a87060"/>
<rect x="370" y="438" width="8" height="17" fill="#a0a8b4" stroke="#7a7f8a" stroke-width="0.7"/>
<rect x="382.5" y="437" width="12" height="15" fill="#fff" stroke="#777" stroke-width="0.8"/><rect x="384.5" y="439" width="8" height="10" fill="#e0a090"/>
<rect x="414" y="438" width="12.5" height="54" fill="#b9b9bd" stroke="#88888f" stroke-width="0.7"/>
<rect x="415.5" y="456" width="9.5" height="14" fill="#5a5a62" />
<rect x="415.5" y="474" width="9.5" height="14" fill="#f4f4f4" />
<rect x="475.5" y="370" width="12.0" height="46.0" fill="#d9aaa0" stroke="#b89088" stroke-width="0.7"/>
<rect x="479.7" y="372.0" width="3.6" height="42.0" fill="#e4bdb4"/>
<rect x="512.5" y="389" width="37.5" height="31.0" fill="#ddb6b5" stroke="#aa9696" stroke-width="0.8"/>
<rect x="513.0" y="398.3" width="36.5" height="13.0" fill="#d59ea2"/>
<line x1="542.5" y1="389.5" x2="542.5" y2="419.5" stroke="#ebd0cf" stroke-width="1.2"/>
<line x1="526.8" y1="389.5" x2="526.8" y2="419.5" stroke="#ebd0cf" stroke-width="1.2"/>
<rect x="542.0" y="389" width="8" height="31.0" fill="#d8aeae" stroke="#aa9696" stroke-width="0.6"/>
<path d="M545.0 392.0 q3 3 0 6 q-3 3 0 6 q3 3 0 6 q-3 3 0 6" fill="none" stroke="#5a4a4a" stroke-width="1" transform="translate(0,2.0)"/>
<rect x="541.0" y="381.5" width="9" height="7.5" fill="#e2cdbd" stroke="#b8a090" stroke-width="0.6"/><circle cx="545.5" cy="385.3" r="1.8" fill="#f4e6a0"/>
<rect x="541.0" y="420.0" width="9" height="7.5" fill="#e2cdbd" stroke="#b8a090" stroke-width="0.6"/><circle cx="545.5" cy="423.7" r="1.8" fill="#f4e6a0"/>
<rect x="450" y="439" width="45.0" height="13.5" fill="#d9aaa0" stroke="#b89088" stroke-width="0.7"/>
<rect x="452.0" y="443.7" width="41.0" height="4.0" fill="#e4bdb4"/>
<rect x="453" y="468" width="37.0" height="29.7" fill="#ddb6b5" stroke="#aa9696" stroke-width="0.8"/>
<rect x="453.5" y="476.9" width="36.0" height="12.5" fill="#d59ea2"/>
<line x1="482.6" y1="468.5" x2="482.6" y2="497.2" stroke="#ebd0cf" stroke-width="1.2"/>
<line x1="467.1" y1="468.5" x2="467.1" y2="497.2" stroke="#ebd0cf" stroke-width="1.2"/>
<rect x="482.0" y="468" width="8" height="29.7" fill="#d8aeae" stroke="#aa9696" stroke-width="0.6"/>
<path d="M485.0 471.0 q3 3 0 6 q-3 3 0 6 q3 3 0 6 q-3 3 0 6" fill="none" stroke="#5a4a4a" stroke-width="1" transform="translate(0,1.3)"/>
<rect x="481.0" y="460.5" width="9" height="7.5" fill="#e2cdbd" stroke="#b8a090" stroke-width="0.6"/><circle cx="485.5" cy="464.3" r="1.8" fill="#f4e6a0"/>
<rect x="481.0" y="497.7" width="9" height="7.5" fill="#e2cdbd" stroke="#b8a090" stroke-width="0.6"/><circle cx="485.5" cy="501.4" r="1.8" fill="#f4e6a0"/>
<rect x="315" y="379" width="100" height="3.5" fill="#b0b2ba" stroke="#7e808a" stroke-width="0.75"/>
<rect x="411" y="337" width="4" height="80.5" fill="#b0b2ba" stroke="#7e808a" stroke-width="0.75"/>
<rect x="441" y="357" width="3.5" height="60.5" fill="#b0b2ba" stroke="#7e808a" stroke-width="0.75"/>
<rect x="412" y="356" width="33" height="3" fill="#b0b2ba" stroke="#7e808a" stroke-width="0.75"/>
<rect x="440" y="366" width="119" height="4" fill="#b0b2ba" stroke="#7e808a" stroke-width="0.75"/>
<rect x="472.5" y="370" width="3.0" height="46" fill="#b0b2ba" stroke="#7e808a" stroke-width="0.75"/>
<rect x="554.5" y="366" width="3.5" height="76" fill="#b0b2ba" stroke="#7e808a" stroke-width="0.75"/>
<rect x="496" y="438" width="62" height="3.5" fill="#b0b2ba" stroke="#7e808a" stroke-width="0.75"/>
<rect x="495" y="439" width="3.5" height="71" fill="#b0b2ba" stroke="#7e808a" stroke-width="0.75"/>
<rect x="412" y="414" width="28" height="3" fill="#b0b2ba" stroke="#7e808a" stroke-width="0.75"/>
<rect x="444" y="414" width="28" height="3" fill="#b0b2ba" stroke="#7e808a" stroke-width="0.75"/>
<rect x="379.5" y="436" width="3.2" height="78" fill="#b0b2ba" stroke="#7e808a" stroke-width="0.75"/>
<rect x="379.5" y="434" width="16.5" height="3" fill="#b0b2ba" stroke="#7e808a" stroke-width="0.75"/>
<rect x="426.5" y="437" width="3.0" height="106" fill="#b0b2ba" stroke="#7e808a" stroke-width="0.75"/>
<rect x="310" y="494.6" width="120" height="4.7" fill="#b0b2ba" stroke="#7e808a" stroke-width="0.75"/>
<rect x="426" y="505.5" width="71" height="4.5" fill="#b0b2ba" stroke="#7e808a" stroke-width="0.75"/>
<text x="0" y="0" font-size="12" text-anchor="middle" fill="#4e4542" stroke="#4e4542" stroke-width="0.25" textLength="31.2" lengthAdjust="spacing" transform="translate(424.0,390) scale(0.64,1)">TOI.</text>
<text x="0" y="0" font-size="12" text-anchor="middle" fill="#4e4542" stroke="#4e4542" stroke-width="0.25" textLength="31.2" lengthAdjust="spacing" transform="translate(457.7,396.6) scale(0.64,1)">TOI.</text>
<text x="0" y="0" font-size="12" text-anchor="middle" fill="#4e4542" stroke="#4e4542" stroke-width="0.25" textLength="53.3" lengthAdjust="spacing" transform="translate(345.6,426.6) scale(0.64,1)">LIVING</text>
<text x="0" y="0" font-size="12" text-anchor="middle" fill="#4e4542" stroke="#4e4542" stroke-width="0.25" textLength="54.7" lengthAdjust="spacing" transform="translate(387.5,428.7) scale(0.64,1)">DINING</text>
<text x="0" y="0" font-size="12" text-anchor="middle" fill="#4e4542" stroke="#4e4542" stroke-width="0.25" textLength="80.0" lengthAdjust="spacing" transform="translate(518.1,435) scale(0.64,1)">BED ROOM</text>
<text x="0" y="0" font-size="12" text-anchor="middle" fill="#4e4542" stroke="#4e4542" stroke-width="0.25" textLength="80.0" lengthAdjust="spacing" transform="translate(458.1,465) scale(0.64,1)">BED ROOM</text>
<text x="0" y="0" font-size="12" text-anchor="middle" fill="#4e4542" stroke="#4e4542" stroke-width="0.2" textLength="66.1" lengthAdjust="spacing" transform="translate(407.6,463.9) rotate(-90) scale(0.64,1)">KITCHEN</text>
<ellipse cx="34" cy="202" rx="3.5" ry="5" fill="#e2e0da" stroke="#a8a8a4" stroke-width="0.7"/>
<ellipse cx="92" cy="270" rx="5" ry="4" fill="#e2e0da" stroke="#a8a8a4" stroke-width="0.7"/>
<ellipse cx="596" cy="206" rx="4" ry="6" fill="#e2e0da" stroke="#a8a8a4" stroke-width="0.7"/>
<ellipse cx="532" cy="276" rx="4.5" ry="4" fill="#e2e0da" stroke="#a8a8a4" stroke-width="0.7"/>
<ellipse cx="428" cy="368" rx="6" ry="3.5" fill="#e2e0da" stroke="#a8a8a4" stroke-width="0.7"/>
<ellipse cx="457" cy="378" rx="6" ry="3.5" fill="#e2e0da" stroke="#a8a8a4" stroke-width="0.7"/>
<ellipse cx="323" cy="204" rx="4" ry="4" fill="#e2e0da" stroke="#a8a8a4" stroke-width="0.7"/>
<path d="M169.0 209.0A20 20 0 0 1 189.0 189.0" fill="none" stroke="#7a6a66" stroke-width="1"/>
<path d="M189 209L189.0 189.0" stroke="#8a8c96" stroke-width="2.5"/>
<path d="M444.0 194.5A19 19 0 0 1 463.0 213.5" fill="none" stroke="#7a6a66" stroke-width="1"/>
<path d="M444 213.5L444.0 194.5" stroke="#8a8c96" stroke-width="2.5"/>
<path d="M191.0 167.5A20 20 0 0 1 211.0 187.5" fill="none" stroke="#7a6a66" stroke-width="1"/>
<path d="M191 187.5L191.0 167.5" stroke="#8a8c96" stroke-width="2.5"/>
<path d="M310.0 400.0A20 20 0 0 1 290.0 380.0" fill="none" stroke="#7a6a66" stroke-width="1"/>
<path d="M310 380L310.0 400.0" stroke="#8a8c96" stroke-width="2.5"/>
<path d="M335.0 380.0A20 20 0 0 1 315.0 400.0" fill="none" stroke="#7a6a66" stroke-width="1"/>
<path d="M315 380L315.0 400.0" stroke="#8a8c96" stroke-width="2.5"/>
<g><line x1="309" y1="543.4" x2="334" y2="587" stroke="#6a7a6a" stroke-width="1.4"/><line x1="343" y1="552.8" x2="300.4" y2="577.7" stroke="#7a9a7a" stroke-width="1.4"/><circle cx="321.5" cy="565.2" r="13.2" fill="#fbfbf8" stroke="#5aa27a" stroke-width="2.4"/><path d="M316.99 552.80 A13.2 13.2 0 0 1 329.98 575.31" fill="none" stroke="#5b6262" stroke-width="2.6"/><circle cx="321.5" cy="565.2" r="6.8" fill="#f2f7f0" stroke="#2f4f3a" stroke-width="1.5"/><path d="M321.5 559v12.4M315.3 565.2h12.4M317.1 560.8l8.8 8.8M325.9 560.8l-8.8 8.8" stroke="#b8d8b8" stroke-width="0.6"/></g>
<circle cx="330.8" cy="568.9" r="0.9" fill="#3a3a40"/>
<circle cx="325.4" cy="574.4" r="0.9" fill="#3a3a40"/>
<circle cx="317.8" cy="574.5" r="0.9" fill="#3a3a40"/>
<circle cx="312.3" cy="569.1" r="0.9" fill="#3a3a40"/>
<circle cx="312.2" cy="561.5" r="0.9" fill="#3a3a40"/>
<circle cx="317.6" cy="556.0" r="0.9" fill="#3a3a40"/>
<circle cx="325.2" cy="555.9" r="0.9" fill="#3a3a40"/>
<circle cx="330.7" cy="561.3" r="0.9" fill="#3a3a40"/>
<text x="300.2" y="541.3" font-size="12.5" font-family="Liberation Serif, serif" fill="#5a5a5a" stroke="#5a5a5a" stroke-width="0.2" textLength="9" lengthAdjust="spacingAndGlyphs">N</text>
<text x="0" y="0" font-size="17.5" text-anchor="middle" fill="#4a4a4e" stroke="#4a4a4e" stroke-width="0.2" textLength="207.4" lengthAdjust="spacing" transform="translate(331.8,614) scale(0.74,1)">TYPICAL FLOOR PLAN</text>
<text x="0" y="0" font-size="17.5" text-anchor="middle" fill="#4a4a4e" stroke="#4a4a4e" stroke-width="0.2" textLength="344.6" lengthAdjust="spacing" transform="translate(331.5,632.5) scale(0.74,1)">3RD, 5TH, 7TH, 9TH, 11TH &amp; 13TH</text>
</svg>
</body></html>
